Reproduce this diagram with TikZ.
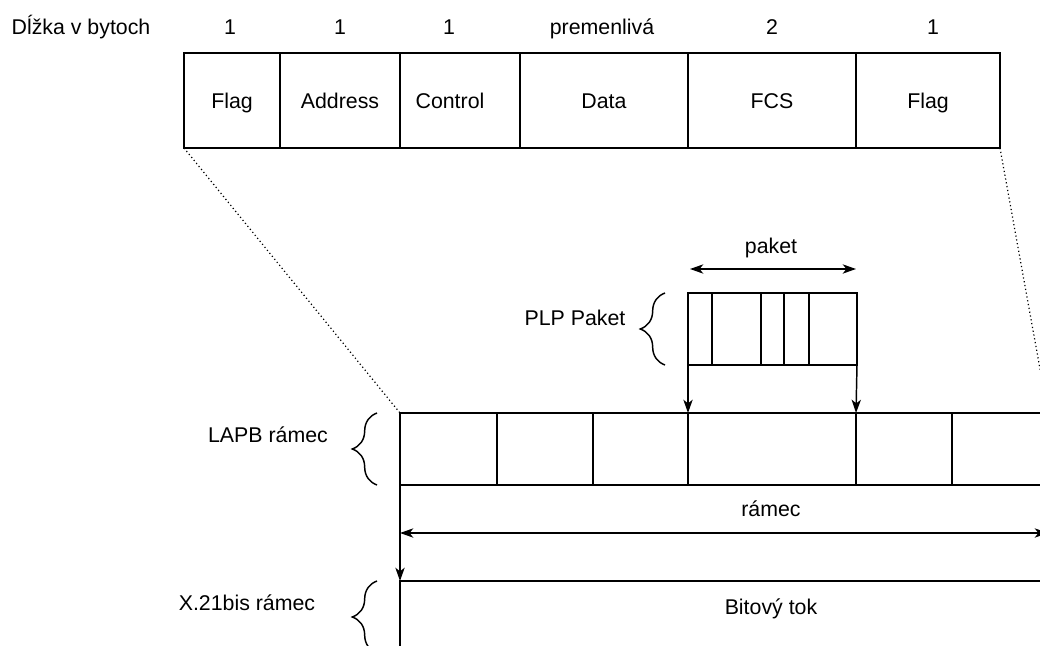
\documentclass[tikz,border=0pt]{standalone}
\usepackage{fontspec}
\setmainfont{Liberation Sans}
\usetikzlibrary{arrows.meta,calc,decorations.pathreplacing}
\begin{document}
\begin{tikzpicture}[x=0.75pt,y=-0.75pt,
  font=\fontsize{16}{19}\selectfont,
  cell/.style={draw,line width=1.1pt,inner sep=0pt,outer sep=0pt,anchor=north west,text height=13pt,text depth=1.6pt},
  lbl/.style={inner sep=0pt,text height=13pt,text depth=1.6pt},
  arr/.style={line width=1.1pt,-{Stealth[length=10pt,width=7pt,inset=2.8pt]}},
  darr/.style={line width=1.1pt,{Stealth[length=10pt,width=7pt,inset=2.8pt]}-{Stealth[length=10pt,width=7pt,inset=2.8pt]}},
  dots/.style={line width=0.9pt,dotted},
  brc/.style={line width=1.1pt,decorate,decoration={brace,amplitude=18.5pt}}]
\useasboundingbox (0,0) rectangle (1040,646);
\clip (0,0) rectangle (1040,646);
% header
\node[lbl] (hdr) at (81,27) {Dĺžka v bytoch};
\node[lbl] (n1) at (230,27) {1};
\node[lbl] (n2) at (340,27) {1};
\node[lbl] (n3) at (449,27) {1};
\node[lbl] (n4) at (602,27) {premenlivá};
\node[lbl] (n5) at (772,27) {2};
\node[lbl] (n6) at (933,27) {1};
% top frame
\node[cell,minimum width=96*0.75pt,minimum height=95*0.75pt] (f1) at (184,53) {Flag};
\node[cell,minimum width=120*0.75pt,minimum height=95*0.75pt] (f2) at (280,53) {Address};
\node[cell,minimum width=120*0.75pt,minimum height=95*0.75pt] (f3) at (400,53) {\hspace*{-15pt}Control};
\node[cell,minimum width=168*0.75pt,minimum height=95*0.75pt] (f4) at (520,53) {Data};
\node[cell,minimum width=168*0.75pt,minimum height=95*0.75pt] (f5) at (688,53) {FCS};
\node[cell,minimum width=144*0.75pt,minimum height=95*0.75pt] (f6) at (856,53) {Flag};
% PLP packet
\node[cell,minimum width=24*0.75pt,minimum height=72*0.75pt] (p1) at (688,293) {};
\node[cell,minimum width=49*0.75pt,minimum height=72*0.75pt] (p2) at (712,293) {};
\node[cell,minimum width=23*0.75pt,minimum height=72*0.75pt] (p3) at (761,293) {};
\node[cell,minimum width=25*0.75pt,minimum height=72*0.75pt] (p4) at (784,293) {};
\node[cell,minimum width=48*0.75pt,minimum height=72*0.75pt] (p5) at (809,293) {};
% LAPB frame
\node[cell,minimum width=97*0.75pt,minimum height=72*0.75pt] (l1) at (400,413) {};
\node[cell,minimum width=96*0.75pt,minimum height=72*0.75pt] (l2) at (497,413) {};
\node[cell,minimum width=95*0.75pt,minimum height=72*0.75pt] (l3) at (593,413) {};
\node[cell,minimum width=168*0.75pt,minimum height=72*0.75pt] (l4) at (688,413) {};
\node[cell,minimum width=96*0.75pt,minimum height=72*0.75pt] (l5) at (856,413) {};
\node[cell,minimum width=96*0.75pt,minimum height=72*0.75pt] (l6) at (952,413) {};
% X.21bis
\node[cell,minimum width=680*0.75pt,minimum height=90*0.75pt] (x) at (400,581) {};
\node[lbl] (bt) at (771,607) {Bitový tok};
% labels
\node[lbl] (paket) at (771,246) {paket};
\node[lbl] (plp) at (575,318) {PLP Paket};
\node[lbl] (lapb) at (268,435) {LAPB rámec};
\node[lbl] (xl) at (247,603) {X.21bis rámec};
\node[lbl] (ram) at (771,509) {rámec};
% dotted zoom lines
\draw[dots] (f1.south west) -- (l1.north west);
\draw[dots] (f6.south east) -- (l6.north east);
% arrows
\draw[darr] ($(p1.north west)+(2,-24)$) -- ($(p5.north east)+(-1,-24)$);
\draw[arr] (p1.south west) -- (l4.north west);
\draw[arr] (p5.south east) -- (l4.north east);
\draw[darr] ($(l1.south west)+(0,48)$) -- ($(l6.south east)+(0,48)$);
\draw[arr] (l1.south west) -- (x.north west);
% braces
\draw[brc] ($(p1.south west)+(-23,0)$) -- ($(p1.north west)+(-23,0)$);
\draw[brc] ($(l1.south west)+(-23,0)$) -- ($(l1.north west)+(-23,0)$);
\draw[brc] ($(x.north west)+(-23,72)$) -- ($(x.north west)+(-23,0)$);
\end{tikzpicture}
\end{document}
